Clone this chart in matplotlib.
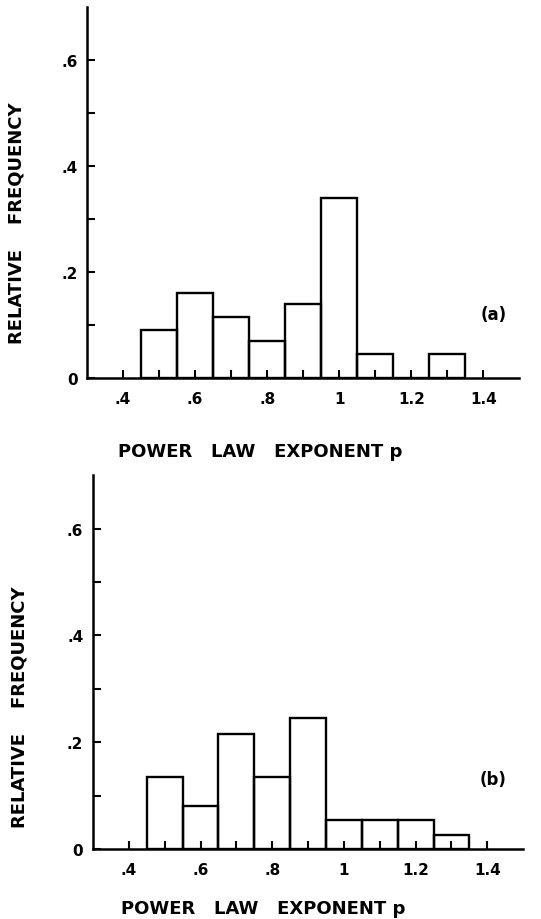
import numpy as np
import matplotlib
matplotlib.use("Agg")
import matplotlib.pyplot as plt
from matplotlib.ticker import FixedLocator

# bin centres of the power law exponent p
bins = [0.5, 0.6, 0.7, 0.8, 0.9, 1.0, 1.1, 1.2, 1.3]
freqA = [0.09, 0.16, 0.115, 0.07, 0.14, 0.34, 0.045, 0.0, 0.045]      # panel (a)
freqB = [0.135, 0.08, 0.215, 0.135, 0.245, 0.055, 0.055, 0.055, 0.027]  # panel (b)

xticks = [0.4, 0.6, 0.8, 1.0, 1.2, 1.4]
xticklabels = ['.4', '.6', '.8', '1', '1.2', '1.4']
yticks = [0, 0.2, 0.4, 0.6]
yticklabels = ['0', '.2', '.4', '.6']

plt.rcParams['font.family'] = ['DejaVu Sans']
plt.rcParams['font.weight'] = 'bold'

fig = plt.figure(figsize=(5.41, 9.2), dpi=100)

def panel(rect, freq, tag, tagpos, ylab, xlab):
    ax = fig.add_axes(rect)
    ax.bar(bins, freq, width=0.1, fill=False, edgecolor='black', linewidth=1.7)
    ax.set_xlim(0.3, 1.5)
    ax.set_ylim(0, 0.7)
    for s in ('top', 'right'):
        ax.spines[s].set_visible(False)
    for s in ('left', 'bottom'):
        ax.spines[s].set_linewidth(1.8)
    ax.xaxis.set_major_locator(FixedLocator(xticks))
    ax.xaxis.set_minor_locator(FixedLocator([0.5, 0.7, 0.9, 1.1, 1.3]))
    ax.yaxis.set_major_locator(FixedLocator(yticks))
    ax.yaxis.set_minor_locator(FixedLocator([0.1, 0.3, 0.5]))
    ax.set_xticklabels(xticklabels, fontsize=11, fontweight='bold')
    ax.set_yticklabels(yticklabels, fontsize=11, fontweight='bold')
    ax.tick_params(which='both', direction='in', length=6, width=1.5)
    ax.tick_params(axis='x', which='major', pad=9)
    ax.tick_params(axis='y', which='major', pad=7)
    ax.set_ylabel('RELATIVE    FREQUENCY', fontsize=13, fontweight='bold')
    ax.yaxis.set_label_coords(ylab[0], ylab[1])
    ax.set_xlabel('POWER   LAW   EXPONENT p', fontsize=13, fontweight='bold')
    ax.xaxis.set_label_coords(xlab[0], xlab[1])
    ax.text(tagpos[0], tagpos[1], tag, fontsize=12, fontweight='bold',
            ha='center', va='center')
    return ax

panel([0.161, 0.588, 0.799, 0.403], freqA, '(a)', (1.43, 0.12),
      (-0.1435, 0.42), (0.40, -0.173))
panel([0.172, 0.076, 0.795, 0.4065], freqB, '(b)', (1.417, 0.131),
      (-0.151, 0.382), (0.395, -0.134))

fig.savefig('out.png', dpi=100)
